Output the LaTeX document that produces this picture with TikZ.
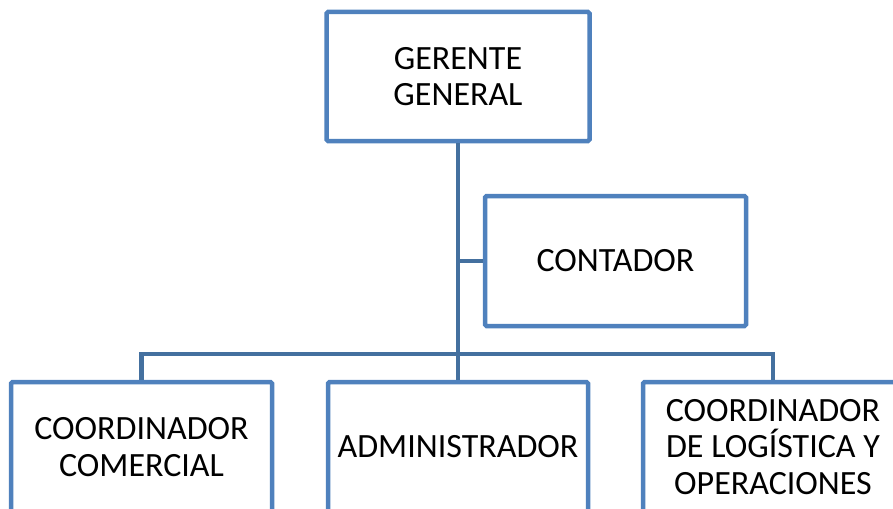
\documentclass[tikz,border=0pt]{standalone}
\usepackage{fontspec}
\setmainfont{Carlito}
\definecolor{boxblue}{HTML}{4F81BD}
\definecolor{lineblue}{HTML}{44709F}
\begin{document}
\begin{tikzpicture}[x=1pt,y=-1pt,
  orgbox/.style={draw=boxblue,line width=4.5pt,fill=white,rounded corners=1.5pt,
    minimum width=260pt,minimum height=130pt,inner sep=0pt,align=center,
    font=\fontsize{34}{36.5}\selectfont},
  conn/.style={draw=lineblue,line width=4.5pt}]
\useasboundingbox (0,0) rectangle (893,508);
\clip (0,0) rectangle (893,508);
\coordinate (bar) at (458,354);
\node[orgbox,minimum width=263pt,minimum height=129pt] (ger) at (458,76.5) {GERENTE\\GENERAL};
\node[orgbox,minimum width=261pt] (con) at (615.5,261) {CONTADOR};
\node[orgbox,minimum width=261pt] (cc) at (141.5,447) {COORDINADOR\\COMERCIAL};
\node[orgbox] (adm) at (458,447) {ADMINISTRADOR};
\node[orgbox] (cl) at (773,447) {COORDINADOR\\DE LOGÍSTICA Y\\OPERACIONES};
\draw[conn] (ger.south) -- (adm.north);
\draw[conn] (ger.south |- con.west) -- (con.west);
\draw[conn] (cc.north) |- (bar) -| (cl.north);
\end{tikzpicture}
\end{document}
